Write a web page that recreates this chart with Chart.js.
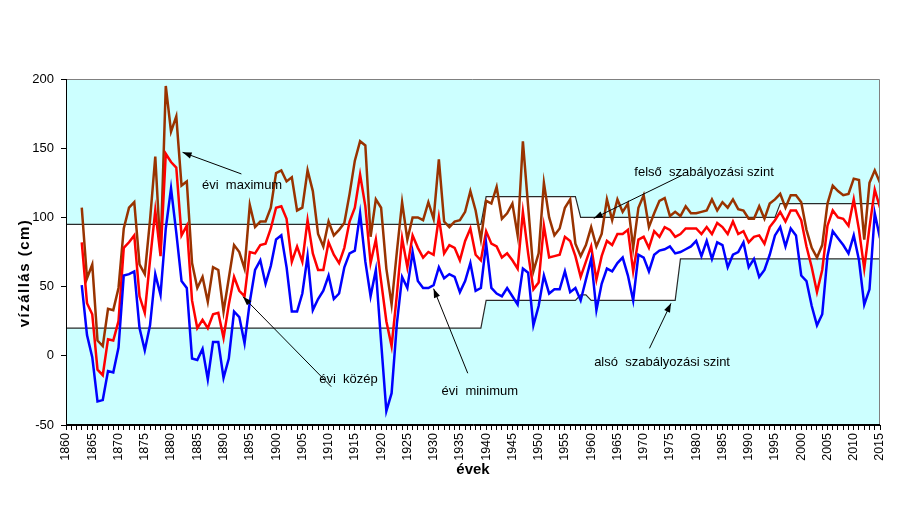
<!DOCTYPE html>
<html>
<head>
<meta charset="utf-8">
<script src="https://cdn.jsdelivr.net/npm/chart.js@4.4.1/dist/chart.umd.min.js"></script>
<style>
  html, body { margin: 0; padding: 0; background: #fff; }
</style>
</head>
<body>
<canvas id="myChart" width="898" height="505"></canvas>
<script>
// évek 1863 - 2015
const firstYear = 1863;

const maxLevel = [
  107, 56, 66, 11, 7, 34, 33, 49, 92, 107, 111, 66, 59, 98, 144, 74, 195, 162, 173, 123,
  126, 67, 49, 57, 39, 64, 62, 32, 56, 80, 75, 63, 109, 93, 97, 97, 107, 132, 134, 126,
  129, 105, 107, 134, 119, 88, 79, 97, 87, 91, 96, 117, 141, 155, 152, 86, 113, 107, 63, 37,
  75, 111, 84, 100, 100, 98, 111, 99, 142, 97, 93, 97, 98, 104, 119, 105, 84, 112, 110, 122,
  99, 103, 110, 87, 155, 108, 61, 74, 125, 100, 87, 92, 107, 113, 81, 72, 80, 93, 79, 88,
  113, 98, 113, 104, 110, 78, 107, 116, 93, 103, 112, 114, 101, 104, 101, 108, 103, 103, 104, 105,
  113, 105, 111, 107, 113, 106, 105, 99, 99, 108, 99, 110, 113, 117, 107, 116, 116, 111, 91, 78,
  71, 80, 110, 123, 119, 116, 117, 128, 127, 84, 125, 134, 125
];

const meanLevel = [
  82, 38, 30, -10, -14, 12, 11, 25, 78, 82, 87, 43, 31, 69, 105, 72, 146, 140, 136, 87,
  94, 40, 20, 26, 20, 30, 31, 13, 37, 57, 47, 43, 75, 74, 80, 81, 92, 107, 108, 99,
  68, 79, 68, 98, 74, 62, 62, 82, 73, 67, 78, 97, 107, 131, 108, 67, 84, 54, 25, 7,
  44, 85, 64, 87, 78, 71, 75, 73, 100, 74, 80, 78, 69, 83, 92, 73, 69, 90, 81, 79,
  71, 74, 69, 63, 104, 74, 48, 53, 94, 71, 72, 73, 86, 83, 72, 57, 68, 79, 55, 72,
  83, 80, 88, 88, 91, 61, 84, 86, 78, 90, 86, 93, 91, 86, 88, 92, 92, 92, 88, 93,
  88, 96, 93, 88, 97, 88, 90, 82, 86, 87, 81, 93, 98, 104, 97, 105, 105, 98, 79, 64,
  46, 62, 94, 105, 100, 99, 94, 113, 91, 63, 93, 120, 107
];

const minLevel = [
  51, 15, -1, -33, -32, -11, -12, 6, 58, 59, 61, 20, 4, 22, 59, 44, 92, 121, 89, 54,
  49, -2, -3, 5, -17, 10, 10, -16, -2, 32, 28, 9, 39, 62, 69, 52, 65, 84, 87, 64,
  32, 32, 45, 72, 33, 41, 47, 58, 41, 45, 64, 74, 76, 103, 68, 43, 62, 10, -40, -27,
  23, 57, 49, 75, 54, 49, 49, 51, 64, 56, 59, 57, 46, 54, 67, 47, 49, 81, 49, 45,
  43, 49, 43, 37, 63, 60, 22, 36, 58, 45, 48, 48, 61, 46, 49, 40, 55, 70, 33, 52,
  63, 61, 67, 71, 58, 40, 73, 71, 61, 73, 76, 77, 79, 74, 75, 77, 79, 83, 72, 83,
  70, 82, 80, 64, 73, 75, 82, 64, 70, 57, 62, 73, 87, 93, 79, 92, 87, 58, 54, 36,
  22, 30, 72, 90, 85, 80, 74, 87, 69, 37, 48, 103, 85
];

// szabályozási szintek
const regYears = [1860, 1939, 1940, 1957, 1958, 1959, 1960, 1976, 1977, 1995, 1996, 2015];
const lowerReg = [20, 20, 40, 40, 44, 44, 40, 40, 70, 70, 70, 70];
const upperReg = [95, 95, 115, 115, 100, 100, 100, 100, 100, 100, 110, 110];

const yTicks = [-50, 0, 50, 100, 150, 200];

// feliratok (adat koordinátákban)
const notes = [
  { text: 'évi  maximum', x: 1885.9, y: 123.4, align: 'left', from: [1893.4, 131.4], to: [1882.2, 147.0] },
  { text: 'évi  közép', x: 1913.8, y: -16.8, align: 'center', from: [1910.5, -22.3], to: [1893.7, 42.7] },
  { text: 'évi  minimum', x: 1938.8, y: -25.9, align: 'center', from: [1936.5, -12.6], to: [1930.0, 48.5] },
  { text: 'felső  szabályozási szint', x: 1981.5, y: 132.3, align: 'center', from: [1977.4, 130.6], to: [1960.5, 99.3] },
  { text: 'alsó  szabályozási szint', x: 1973.5, y: -4.7, align: 'center', from: [1971.1, 5.4], to: [1975.2, 37.9] }
];

function series(values) {
  return values.map((v, i) => ({ x: firstYear + i, y: v }));
}
function regSeries(levels) {
  return levels.map((v, i) => ({ x: regYears[i], y: v }));
}

const bgPlugin = {
  id: 'bg',
  beforeDraw(chart) {
    const { ctx, chartArea: a } = chart;
    ctx.save();
    ctx.fillStyle = '#CCFFFF';
    ctx.fillRect(a.left, a.top, a.right - a.left, a.bottom - a.top);
    ctx.restore();
  },
  afterDatasetsDraw(chart) {
    const { ctx, chartArea: a } = chart;
    ctx.save();
    ctx.lineWidth = 1;
    ctx.strokeStyle = '#808080';
    ctx.beginPath();
    ctx.moveTo(a.left, a.top + 0.5);
    ctx.lineTo(a.right - 0.5, a.top + 0.5);
    ctx.lineTo(a.right - 0.5, a.bottom);
    ctx.stroke();
    ctx.strokeStyle = '#000';
    ctx.beginPath();
    ctx.moveTo(a.left + 0.5, a.top);
    ctx.lineTo(a.left + 0.5, a.bottom - 0.5);
    ctx.lineTo(a.right, a.bottom - 0.5);
    ctx.stroke();
    ctx.restore();
  }
};

const notePlugin = {
  id: 'notes',
  afterDatasetsDraw(chart) {
    const { ctx } = chart;
    const xs = chart.scales.x, ys = chart.scales.y;
    ctx.save();
    ctx.font = '13px "Liberation Sans", Arial, sans-serif';
    ctx.fillStyle = '#000';
    ctx.strokeStyle = '#000';
    ctx.lineWidth = 1;
    notes.forEach(n => {
      const x1 = xs.getPixelForValue(n.from[0]), y1 = ys.getPixelForValue(n.from[1]);
      const x2 = xs.getPixelForValue(n.to[0]), y2 = ys.getPixelForValue(n.to[1]);
      ctx.beginPath();
      ctx.moveTo(x1, y1);
      ctx.lineTo(x2, y2);
      ctx.stroke();
      const ang = Math.atan2(y2 - y1, x2 - x1);
      const len = 9, w = 3.2;
      ctx.beginPath();
      ctx.moveTo(x2, y2);
      ctx.lineTo(x2 - len * Math.cos(ang) + w * Math.sin(ang), y2 - len * Math.sin(ang) - w * Math.cos(ang));
      ctx.lineTo(x2 - len * Math.cos(ang) - w * Math.sin(ang), y2 - len * Math.sin(ang) + w * Math.cos(ang));
      ctx.closePath();
      ctx.fill();
      ctx.textAlign = n.align;
      ctx.textBaseline = 'middle';
      ctx.fillText(n.text, xs.getPixelForValue(n.x), ys.getPixelForValue(n.y));
    });
    // y tengely címe
    ctx.font = 'bold 15px "Liberation Sans", Arial, sans-serif';
    ctx.translate(25, 273);
    ctx.rotate(-Math.PI / 2);
    ctx.textAlign = 'center';
    ctx.textBaseline = 'middle';
    if ('letterSpacing' in ctx) ctx.letterSpacing = '1.5px';
    ctx.fillText('vízállás (cm)', 0, 0);
    ctx.restore();
  }
};

const ctx = document.getElementById('myChart').getContext('2d');
const myChart = new Chart(ctx, {
  type: 'line',
  data: {
    datasets: [
      {
        label: 'alsó szabályozási szint',
        data: regSeries(lowerReg),
        borderColor: '#2a2a2a',
        borderWidth: 1.2,
        pointRadius: 0,
        fill: false,
        order: 10
      },
      {
        label: 'felső szabályozási szint',
        data: regSeries(upperReg),
        borderColor: '#2a2a2a',
        borderWidth: 1.2,
        pointRadius: 0,
        fill: 0,
        backgroundColor: '#ffffff',
        order: 9
      },
      {
        label: 'évi maximum',
        data: series(maxLevel),
        borderColor: '#993300',
        borderWidth: 2.5,
        pointRadius: 0,
        fill: false,
        order: 3
      },
      {
        label: 'évi közép',
        data: series(meanLevel),
        borderColor: '#FF0000',
        borderWidth: 2.5,
        pointRadius: 0,
        fill: false,
        order: 2
      },
      {
        label: 'évi minimum',
        data: series(minLevel),
        borderColor: '#0000FF',
        borderWidth: 2.5,
        pointRadius: 0,
        fill: false,
        order: 1
      }
    ]
  },
  options: {
    responsive: false,
    animation: false,
    devicePixelRatio: 1,
    layout: { padding: { left: 0, right: 17, top: 79, bottom: 0 } },
    plugins: {
      legend: { display: false },
      tooltip: { enabled: false },
      filler: { drawTime: 'beforeDatasetsDraw' }
    },
    scales: {
      x: {
        type: 'linear',
        min: 1860,
        max: 2015,
        afterFit(scale) { scale.height = 80; },
        grid: { drawOnChartArea: false, drawTicks: true, tickLength: 5, color: '#000', tickColor: '#000' },
        border: { color: '#000' },
        ticks: {
          stepSize: 1,
          autoSkip: false,
          minRotation: 90,
          maxRotation: 90,
          padding: 3,
          color: '#000',
          font: { family: '"Liberation Sans", Arial, sans-serif', size: 12.5 },
          callback: v => (v % 5 === 0 ? String(v) : '')
        },
        title: {
          display: true,
          text: 'évek',
          color: '#000',
          font: { family: '"Liberation Sans", Arial, sans-serif', size: 15, weight: 'bold' },
          padding: { top: 0, bottom: 26 }
        }
      },
      y: {
        min: -50,
        max: 200,
        afterFit(scale) { scale.width = 66; },
        afterBuildTicks(scale) { scale.ticks = yTicks.map(v => ({ value: v })); },
        grid: { drawOnChartArea: false, drawTicks: true, tickLength: 5, color: '#000', tickColor: '#000' },
        border: { color: '#000' },
        ticks: {
          padding: 7,
          color: '#000',
          font: { family: '"Liberation Sans", Arial, sans-serif', size: 13 }
        }
      }
    }
  },
  plugins: [bgPlugin, notePlugin]
});
</script>
</body>
</html>
